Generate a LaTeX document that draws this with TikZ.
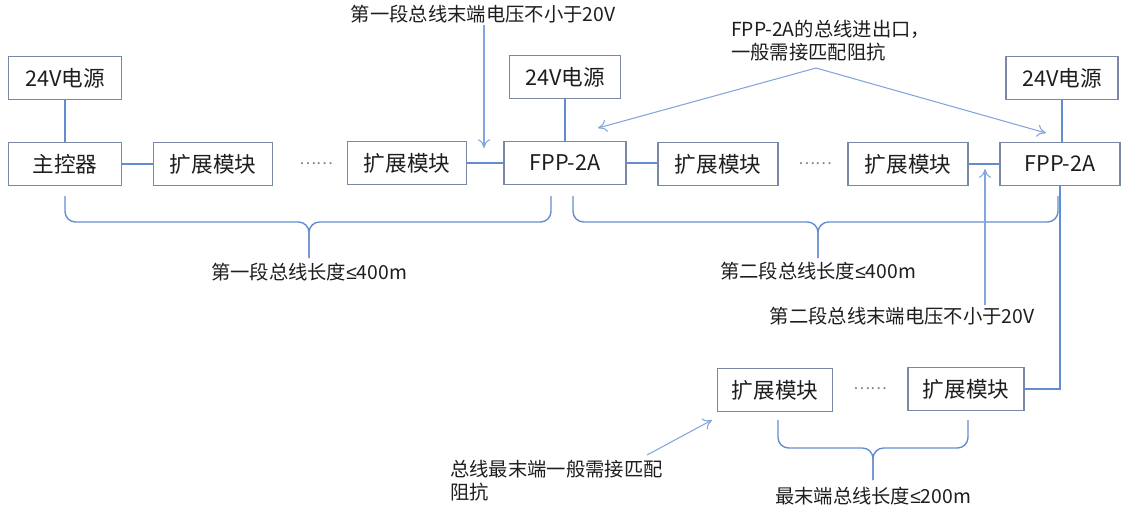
\documentclass[tikz,border=0pt]{standalone}
\usepackage{fontspec}
\setmainfont{Noto Sans CJK SC}
\newfontfamily\mathsym{Liberation Sans}
\usetikzlibrary{arrows.meta}
\definecolor{boxline}{RGB}{122,136,166}
\definecolor{wireblue}{RGB}{98,141,208}
\definecolor{noteblue}{RGB}{130,165,220}
\definecolor{txtgray}{RGB}{30,30,30}
\tikzset{
	unitbox/.style={draw=boxline, line width=0.7pt, fill=white, text=txtgray, inner sep=0pt,
		minimum height=0.86cm, font=\fontsize{12.3}{14}\selectfont},
	wire/.style={draw=wireblue, line width=1.4pt},
	notearrow/.style={draw=noteblue, line width=0.6pt, -{To[length=5pt,width=7pt]}},
	notetext/.style={text=txtgray, inner sep=1pt, font=\fontsize{11}{13}\selectfont},
	busbrace/.style={draw=wireblue, line width=0.8pt, rounded corners=6},
	dotsep/.style={text=gray, font=\fontsize{9}{10}\selectfont}
}
\begin{document}
\begin{tikzpicture}[x=0.02cm, y=-0.02cm]
		\useasboundingbox (0,0) rectangle (1121,508);
		% first segment
		\node[unitbox, minimum width=2.26cm] (pwrA) at (65,78) {24V电源};
		\node[unitbox, minimum width=2.26cm] (mainctl) at (65,164) {主控器};
		\node[unitbox, minimum width=2.38cm] (extA) at (213,164) {扩展模块};
		\node[dotsep] (dotsA) at (316,164) {……};
		\node[unitbox, minimum width=2.38cm] (extB) at (407,163) {扩展模块};
		\node[unitbox, minimum width=2.22cm] (pwrB) at (565,77) {24V电源};
		\node[unitbox, minimum width=2.44cm] (fppA) at (565,163) {FPP-2A};
		% second segment
		\node[unitbox, minimum width=2.40cm] (extC) at (718,164) {扩展模块};
		\node[dotsep] (dotsB) at (815,164) {……};
		\node[unitbox, minimum width=2.40cm] (extD) at (908,164) {扩展模块};
		\node[unitbox, minimum width=2.24cm] (pwrC) at (1062,78) {24V电源};
		\node[unitbox, minimum width=2.40cm] (fppB) at (1060,164) {FPP-2A};
		% last segment
		\node[unitbox, minimum width=2.30cm] (extE) at (775,390) {扩展模块};
		\node[dotsep] (dotsC) at (870,389) {……};
		\node[unitbox, minimum width=2.32cm] (extF) at (966,389) {扩展模块};
		% bus wires
		\draw[wire] (pwrA) -- (mainctl);
		\draw[wire] (mainctl) -- (extA);
		\draw[wire] (extB) -- (fppA);
		\draw[wire] (pwrB) -- (fppA);
		\draw[wire] (fppA.east) -- (fppA.east -| extC.west);
		\draw[wire] (extD) -- (fppB);
		\draw[wire] (pwrC.south) -- (pwrC.south |- fppB.north);
		\draw[wire] (fppB.south) |- (extF.east);
		% length braces
		\draw[busbrace] (65,196) |- (309,222) -- (309,258);
		\draw[busbrace] (551,196) |- (309,222) -- (309,258);
		\node[notetext] (lenA) at (309,272) {第一段总线长度{\mathsym ≤}400m};
		\draw[busbrace] (573,196) |- (818,222) -- (818,258);
		\draw[busbrace] (1058,196) |- (818,222) -- (818,258);
		\node[notetext] (lenB) at (818,271) {第二段总线长度{\mathsym ≤}400m};
		\draw[busbrace] (778,420) |- (873,448) -- (873,480);
		\draw[busbrace] (968,420) |- (873,448) -- (873,480);
		\node[notetext] (lenC) at (873,496) {最末端总线长度{\mathsym ≤}200m};
		% notes
		\node[notetext] (noteA) at (483,14) {第一段总线末端电压不小于20V};
		\coordinate (tipA) at (484,148);
		\draw[notearrow] (noteA.south -| tipA) -- (tipA);
		\node[notetext, align=left, anchor=north west] (noteB) at (729,18) {FPP-2A的总线进出口，\\一般需接匹配阻抗};
		\coordinate (tailB) at (816,68);
		\coordinate (tipB) at (598,128);
		\coordinate (tipC) at (1046,133);
		\draw[notearrow] (tailB) -- (tipB);
		\draw[notearrow] (tailB) -- (tipC);
		\node[notetext] (noteC) at (902,316) {第二段总线末端电压不小于20V};
		\coordinate (tipD) at (985,169);
		\draw[notearrow] (noteC.north -| tipD) -- (tipD);
		\node[notetext, align=left, anchor=north west] (noteD) at (448,458) {总线最末端一般需接匹配\\阻抗};
		\coordinate (tailE) at (647,455);
		\coordinate (tipE) at (712,420);
		\draw[notearrow] (tailE) -- (tipE);
	\end{tikzpicture}
\end{document}
